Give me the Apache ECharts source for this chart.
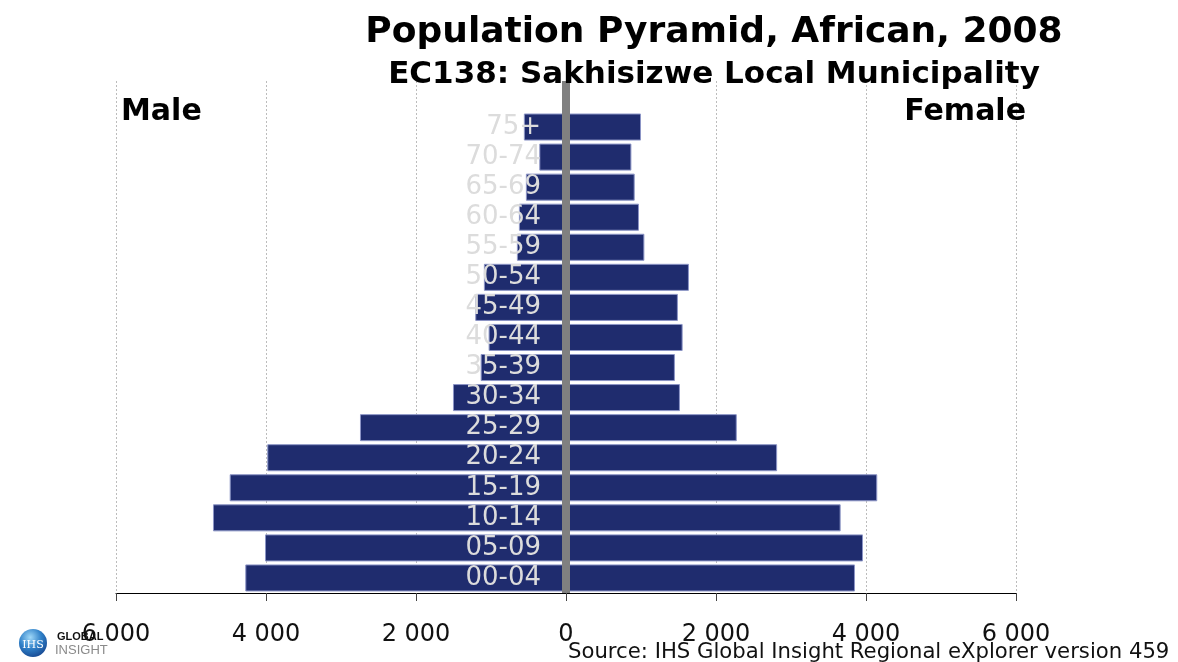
<!DOCTYPE html>
<html>
<head>
<meta charset="utf-8">
<title>Population Pyramid, African, 2008</title>
<script src="https://cdn.jsdelivr.net/npm/echarts@6/dist/echarts.min.js"></script>
<style>
  html, body { margin: 0; padding: 0; background: #ffffff; }
  #chart { width: 1178px; height: 662px; }
</style>
</head>
<body>
<div id="chart"></div>
<script>
// Age bands, youngest first (category axis runs bottom to top)
const ageGroups = ['00-04', '05-09', '10-14', '15-19', '20-24', '25-29', '30-34', '35-39',
                   '40-44', '45-49', '50-54', '55-59', '60-64', '65-69', '70-74', '75+'];

// Population counts per age band
const maleCounts   = [4276, 4013, 4707, 4484, 3983, 2747, 1507, 1138, 1032, 1210, 1095, 655, 628, 535, 356, 562];
const femaleCounts = [3853, 3960, 3662, 4150, 2815, 2277, 1519, 1452, 1555, 1492, 1639, 1045, 973, 916, 872, 1000];

// Value axis ticks
const axisMin = -6000;
const axisMax = 6000;
const axisStep = 2000;

const FONT = '"DejaVu Sans", Verdana, sans-serif';
const BAR_COLOR = '#1f2c6e';
const BAR_BORDER = '#8c95c6';

const GRID_LEFT = 116;
const GRID_RIGHT = 162;
const GRID_WIDTH = 1178 - GRID_LEFT - GRID_RIGHT;

function formatThousands(v) {
  return String(Math.abs(v)).replace(/\B(?=(\d{3})+(?!\d))/g, ' ');
}

const chart = echarts.init(document.getElementById('chart'), null, { renderer: 'canvas' });

const option = {
  backgroundColor: '#ffffff',
  animation: false,
  grid: [
    { left: GRID_LEFT, right: GRID_RIGHT, top: 112, bottom: 69, containLabel: false },
    { left: GRID_LEFT, right: GRID_RIGHT, top: 81, bottom: 69, containLabel: false }
  ],
  xAxis: [
    {
      gridIndex: 0,
      type: 'value',
      min: axisMin, max: axisMax, interval: axisStep,
      axisLine: { show: true, onZero: false, lineStyle: { color: '#000000', width: 1 } },
      axisTick: { show: true, length: 8, lineStyle: { color: '#444444' } },
      axisLabel: { color: '#111111', fontSize: 24, fontFamily: FONT, margin: 30, formatter: formatThousands },
      splitLine: { show: false }
    },
    {
      gridIndex: 1,
      type: 'value',
      min: axisMin, max: axisMax, interval: axisStep,
      axisLine: { show: false },
      axisTick: { show: false },
      axisLabel: { show: false },
      splitLine: { show: true, lineStyle: { color: '#bcbcbc', type: [2, 2], width: 1 } }
    }
  ],
  yAxis: [
    {
      // age labels sit just left of the centre line, over the bars
      gridIndex: 0,
      type: 'category',
      data: ageGroups,
      position: 'left',
      offset: -GRID_WIDTH / 2,
      z: 10,
      axisLine: { show: false, onZero: false },
      axisTick: { show: false },
      axisLabel: { color: '#dcdcdc', fontSize: 26, fontFamily: FONT, margin: 25, interval: 0 },
      splitLine: { show: false }
    },
    {
      // grey centre divider
      gridIndex: 1,
      type: 'category',
      data: [''],
      z: 8,
      axisLine: { show: true, onZero: true, lineStyle: { color: '#808080', width: 8, cap: 'butt' } },
      axisTick: { show: false },
      axisLabel: { show: false },
      splitLine: { show: false }
    }
  ],
  series: [
    {
      name: 'Male',
      type: 'bar',
      xAxisIndex: 0, yAxisIndex: 0,
      stack: 'pop',
      barWidth: '90%',
      itemStyle: { color: BAR_COLOR, borderColor: BAR_BORDER, borderWidth: 1 },
      data: maleCounts.map(v => -v)
    },
    {
      name: 'Female',
      type: 'bar',
      xAxisIndex: 0, yAxisIndex: 0,
      stack: 'pop',
      barWidth: '90%',
      itemStyle: { color: BAR_COLOR, borderColor: BAR_BORDER, borderWidth: 1 },
      data: femaleCounts
    }
  ],
  graphic: [
    {
      type: 'text', x: 714, y: 33, z: 20,
      style: { text: 'Population Pyramid, African, 2008', font: 'bold 36px ' + FONT,
               fill: '#000', align: 'center', verticalAlign: 'middle' }
    },
    {
      type: 'text', x: 714, y: 75, z: 20,
      style: { text: 'EC138: Sakhisizwe Local Municipality', font: 'bold 31px ' + FONT,
               fill: '#000', align: 'center', verticalAlign: 'middle' }
    },
    {
      type: 'text', x: 121, y: 112, z: 20,
      style: { text: 'Male', font: 'bold 30px ' + FONT, fill: '#000', align: 'left', verticalAlign: 'middle' }
    },
    {
      type: 'text', x: 1026, y: 112, z: 20,
      style: { text: 'Female', font: 'bold 30px ' + FONT, fill: '#000', align: 'right', verticalAlign: 'middle' }
    },
    {
      type: 'text', x: 568, y: 652, z: 20,
      style: { text: 'Source: IHS Global Insight Regional eXplorer version 459', font: '21.2px ' + FONT,
               fill: '#111', align: 'left', verticalAlign: 'middle' }
    },
    // IHS Global Insight logo
    {
      type: 'circle', z: 30,
      shape: { cx: 33, cy: 643, r: 14 },
      style: {
        fill: new echarts.graphic.RadialGradient(0.4, 0.3, 0.8, [
          { offset: 0, color: '#9fd8f8' },
          { offset: 0.5, color: '#2f80c8' },
          { offset: 1, color: '#143f88' }
        ])
      }
    },
    {
      type: 'text', x: 33, y: 645, z: 31,
      style: { text: 'IHS', font: '11px "DejaVu Serif", serif', fill: '#ffffff', align: 'center', verticalAlign: 'middle' }
    },
    {
      type: 'text', x: 57, y: 637, z: 31,
      style: { text: 'GLOBAL', font: 'bold 11px "Liberation Sans", Arial, sans-serif', fill: '#111', align: 'left', verticalAlign: 'middle' }
    },
    {
      type: 'text', x: 55, y: 650, z: 31,
      style: { text: 'INSIGHT', font: '13px "Liberation Sans", Arial, sans-serif', fill: '#8a8a8a', align: 'left', verticalAlign: 'middle' }
    }
  ]
};

chart.setOption(option);
</script>
</body>
</html>
